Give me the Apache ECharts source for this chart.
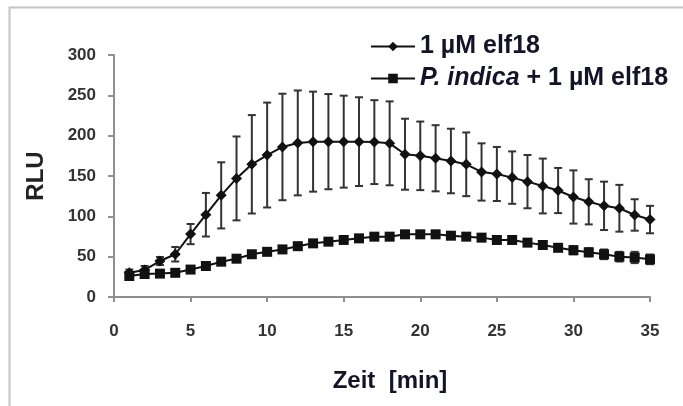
<!DOCTYPE html>
<html>
<head>
<meta charset="utf-8">
<script src="https://cdn.jsdelivr.net/npm/echarts@6/dist/echarts.min.js"></script>
<style>
html,body{margin:0;padding:0;background:#fff;}
#chart{width:683px;height:406px;}
</style>
</head>
<body>
<div id="chart"></div>
<script>
const time = [1,2,3,4,5,6,7,8,9,10,11,12,13,14,15,16,17,18,19,20,21,22,23,24,25,26,27,28,29,30,31,32,33,34,35];
const elf18 = [30,33.5,44.6,53,78,102,126,147,164.5,176,186,191,192.6,192.6,192.6,192.6,192,190.5,177,175,172,168.6,164.5,155,152.5,148,143,137.6,132,124,118,113,110,101.7,96];
const elf18Sd = [4,5,5,9,12.5,27,41,52,61,65,66,65,62,59,57,55,52,52,44,42.5,41,40,39.5,35.5,33.5,32.5,33,34,28,33,28,30,29,19.5,17];
const indica = [26,28.5,29,30,34,38.4,43.8,47.5,53,56,59,63,66.5,68.6,70.7,72.7,74.8,74.8,77.7,77.7,77.7,76,74.8,73.6,70.7,70.7,67.4,64.5,61,58,55.4,52.9,50,49,46.7];
const indicaSd = [3,3,3,3,3,3,3,3,3,3,3,3,3,3,3,3,3,3,3,3,3,3,3,3,3,3,3,4,4,5,5,6,6,7,6];
const seriesNames = ['1 µM elf18', 'P. indica + 1 µM elf18'];
const axisTitles = ['Zeit  [min]', 'RLU'];

const chart = echarts.init(document.getElementById('chart'));
const font = "'Liberation Sans', Arial, sans-serif";

function errData(m, s) { return time.map((t, i) => [t, m[i], s[i]]); }
function renderErr(params, api) {
  const x = api.value(0), m = api.value(1), s = api.value(2);
  const top = api.coord([x, m + s]);
  const bot = api.coord([x, m - s]);
  const w = 4;
  const st = { stroke: '#333', lineWidth: 2 };
  return {
    type: 'group',
    children: [
      { type: 'line', shape: { x1: top[0], y1: top[1], x2: bot[0], y2: bot[1] }, style: st },
      { type: 'line', shape: { x1: top[0] - w, y1: top[1], x2: top[0] + w, y2: top[1] }, style: st },
      { type: 'line', shape: { x1: bot[0] - w, y1: bot[1], x2: bot[0] + w, y2: bot[1] }, style: st }
    ]
  };
}

const option = {
  animation: false,
  backgroundColor: '#fff',
  graphic: [{
    type: 'rect', left: 7, top: 5, shape: { width: 720, height: 440 },
    style: { fill: 'none', stroke: '#c4c4c4', lineWidth: 2 }, silent: true
  }],
  grid: { left: 114, right: 33, top: 55, bottom: 109 },
  legend: {
    data: seriesNames,
    orient: 'vertical',
    left: 365, top: 29,
    itemWidth: 44, itemHeight: 12, itemGap: 7,
    formatter: function (n) {
      if (n === seriesNames[1]) return '{i|P. indica}{b| + 1 µM elf18}';
      return '{b|' + n + '}';
    },
    textStyle: {
      rich: {
        b: { fontFamily: font, fontWeight: 'bold', fontSize: 25, color: '#141428', lineHeight: 26 },
        i: { fontFamily: font, fontWeight: 'bold', fontStyle: 'italic', fontSize: 25, color: '#141428', lineHeight: 26 }
      }
    }
  },
  xAxis: {
    type: 'value', min: 0, max: 35, interval: 5,
    name: axisTitles[0], nameLocation: 'middle', nameGap: 72,
    nameTextStyle: { fontFamily: font, fontWeight: 'bold', fontSize: 24, color: '#141428', padding: [0, 0, 0, 16] },
    axisLine: { show: true, lineStyle: { color: '#8f8f8f', width: 2 } },
    axisTick: { show: true, inside: false, length: 5, lineStyle: { color: '#8f8f8f', width: 2 } },
    axisLabel: { margin: 26, fontFamily: font, fontWeight: 'bold', fontSize: 17, color: '#333' },
    splitLine: { show: false }
  },
  yAxis: {
    type: 'value', min: 0, max: 300, interval: 50,
    name: axisTitles[1], nameLocation: 'middle', nameGap: 66, nameRotate: 90,
    nameTextStyle: { fontFamily: font, fontWeight: 'bold', fontSize: 24, color: '#222' },
    axisLine: { show: true, lineStyle: { color: '#8f8f8f', width: 2 } },
    axisTick: { show: true, inside: false, length: 6, lineStyle: { color: '#8f8f8f', width: 2 } },
    axisLabel: { margin: 18, fontFamily: font, fontWeight: 'bold', fontSize: 17, color: '#333' },
    splitLine: { show: false }
  },
  series: [
    {
      name: 'err1', type: 'custom', renderItem: renderErr, data: errData(elf18, elf18Sd), z: 1,
      encode: { x: 0, y: 1 }
    },
    {
      name: 'err2', type: 'custom', renderItem: renderErr, data: errData(indica, indicaSd), z: 1,
      encode: { x: 0, y: 1 }
    },
    {
      name: seriesNames[0], type: 'line', data: time.map((t, i) => [t, elf18[i]]),
      symbol: 'diamond', symbolSize: 11, z: 3,
      lineStyle: { color: '#111', width: 2 }, itemStyle: { color: '#111' }
    },
    {
      name: seriesNames[1], type: 'line', data: time.map((t, i) => [t, indica[i]]),
      symbol: 'rect', symbolSize: 10, z: 3,
      lineStyle: { color: '#111', width: 2 }, itemStyle: { color: '#111' }
    }
  ]
};
chart.setOption(option);
</script>
</body>
</html>
